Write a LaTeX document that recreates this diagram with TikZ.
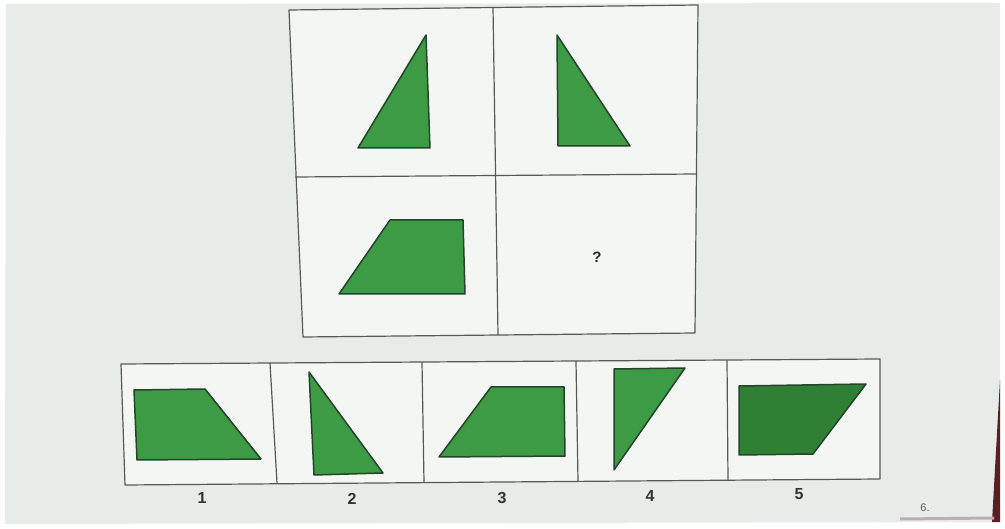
\documentclass[tikz,border=0pt]{standalone}
\usepackage{fontspec}
\setmainfont{Liberation Sans}
\definecolor{paper}{HTML}{E8ECE9}
\definecolor{cellbg}{HTML}{F4F6F4}
\definecolor{shapefill}{HTML}{3C9B44}
\definecolor{shapedark}{HTML}{2F7F34}
\definecolor{edge}{HTML}{24452A}
\definecolor{gridline}{HTML}{555A58}
\definecolor{maroon}{HTML}{5A1E24}
\tikzset{
  grid/.style={draw=gridline, line width=1.2pt, line join=round},
  fig/.style={fill=shapefill, draw=edge, line width=1.5pt, line join=round},
  figdark/.style={fill=shapedark, draw=edge, line width=1.5pt, line join=round},
  numlabel/.style={font=\bfseries\fontsize{16}{18}\selectfont, text=black!80, inner sep=0pt},
}
\begin{document}
\begin{tikzpicture}[x=1pt,y=-1pt]
\useasboundingbox (0,0) rectangle (1005,529);
% page background
\fill[white] (0,0) rectangle (1005,529);
\fill[paper] (6,4) -- (1000,3) -- (1000,522) -- (5,524) -- cycle;
\fill[maroon] (1000,380) -- (1000,522) -- (992,522) -- cycle;
\fill[maroon!30!paper] (900,517.5) -- (994,516.5) -- (994,519.5) -- (900,520.5) -- cycle;

% ---- upper 2x2 puzzle ----
\fill[cellbg] (289,10) -- (698,5) -- (695,333) -- (303,337) -- cycle;
\draw[grid] (289,10) -- (698,5) -- (695,333) -- (303,337) -- cycle;
\draw[grid] (493,7) -- (498,335);
\draw[grid] (295,177) -- (697,174);

\fill[fig] (426,35) -- (430,148) -- (358,148) -- cycle;
\fill[fig] (557,35) -- (630,146) -- (558,146) -- cycle;
\fill[fig] (390,220) -- (463,220) -- (465,294) -- (339,294) -- cycle;
\node[font=\bfseries\fontsize{15}{17}\selectfont, text=black!85, inner sep=0pt] (q) at (597,257) {?};

% ---- answer row ----
\fill[cellbg] (121,364) -- (880,359) -- (880,479) -- (125,485) -- cycle;
\draw[grid] (121,364) -- (880,359) -- (880,479) -- (125,485) -- cycle;
\draw[grid] (270,363) -- (277,483);
\draw[grid] (422,362) -- (424,482);
\draw[grid] (576,361) -- (578,481);
\draw[grid] (727,360) -- (728,480);

\fill[fig] (134,390) -- (205,389) -- (261,459) -- (137,460) -- cycle;
\fill[fig] (309,372) -- (383,473) -- (314,475) -- cycle;
\fill[fig] (491,387) -- (564,387) -- (565,456) -- (439,457) -- cycle;
\fill[fig] (614,369) -- (685,368) -- (614,470) -- cycle;
\fill[figdark] (739,386) -- (866,384) -- (813,454) -- (739,455) -- cycle;

\node[numlabel] (n1) at (202,498) {1};
\node[numlabel] (n2) at (352,499) {2};
\node[numlabel] (n3) at (502,498) {3};
\node[numlabel] (n4) at (650,496) {4};
\node[numlabel] (n5) at (799,494) {5};
\node[font=\fontsize{11}{13}\selectfont, text=black!65, inner sep=0pt] (pg) at (925,508) {6.};
\end{tikzpicture}
\end{document}
